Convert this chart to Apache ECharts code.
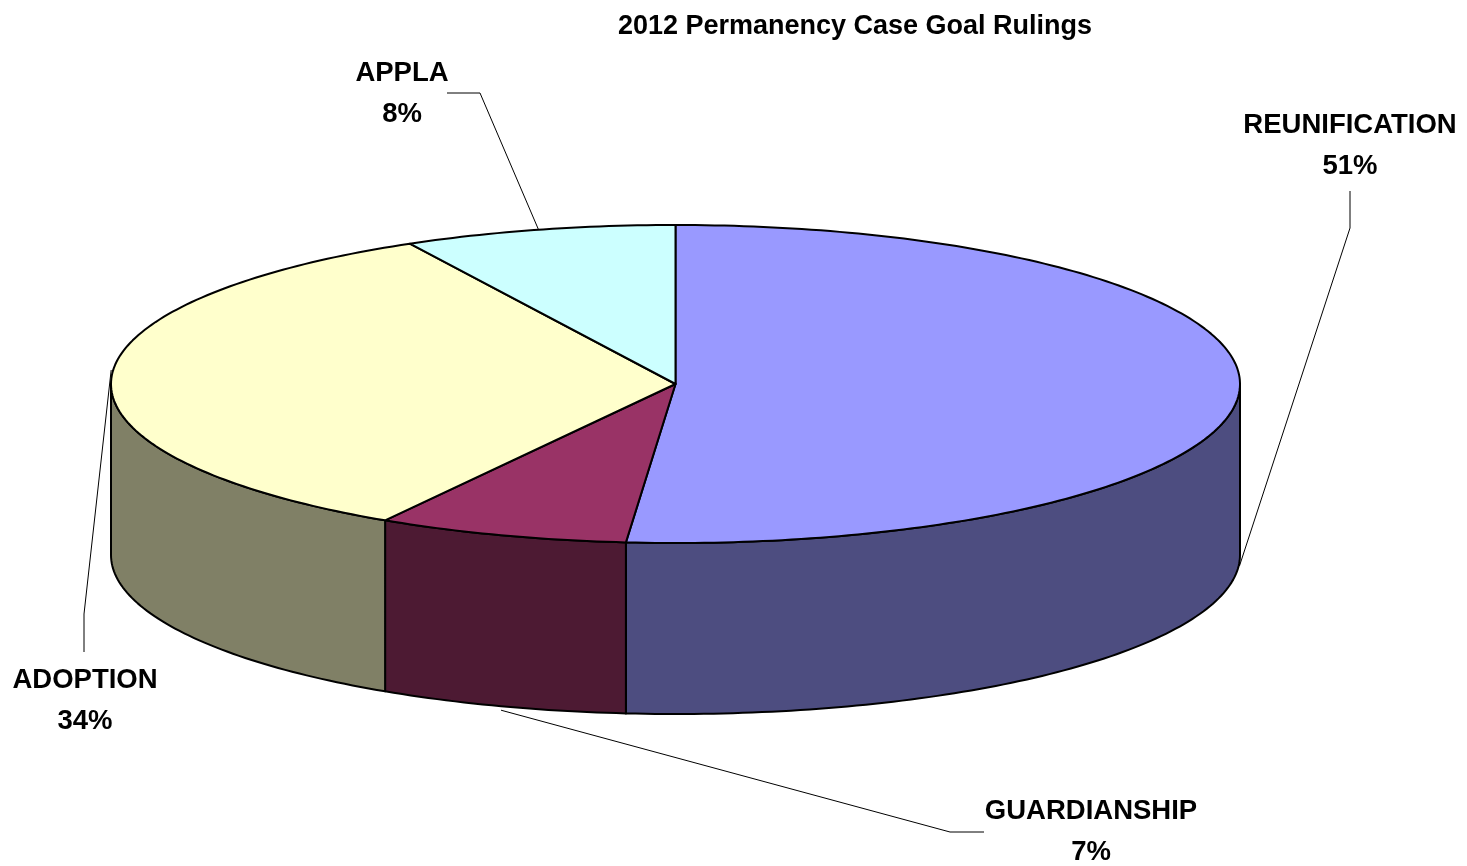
<!DOCTYPE html>
<html>
<head>
<meta charset="utf-8">
<title>2012 Permanency Case Goal Rulings</title>
<script src="https://cdn.jsdelivr.net/npm/echarts@6/dist/echarts.min.js"></script>
<style>
  html, body { margin: 0; padding: 0; background: #fff; }
  #main { width: 1467px; height: 866px; }
</style>
</head>
<body>
<div id="main"></div>
<script>
// data (percent of rulings)
var categories = ['REUNIFICATION', 'GUARDIANSHIP', 'ADOPTION', 'APPLA'];
var shares = [51.4, 7.2, 33.6, 7.8];

// look
var topColors = ['#9999ff', '#993366', '#ffffcc', '#ccffff'];
var sideColors = ['#4d4d80', '#4d1a33', '#808066', '#668080'];
var FONT = '"Liberation Sans", Arial, sans-serif';

// 3d pie layout (ellipse + depth)
var cx = 675.5, cy = 384, rx = 564.5, ry = 159, depth = 171;

// label boxes and leader line elbows, one per slice
var labelPos = [[1350, 146], [1091, 832], [85, 701], [402, 94]];
var lineEnd = [[1350, 191], [984, 832], [84, 652], [447, 93]];
var lineElbow = [[1350, 228], [950, 832], [84, 614], [480, 93]];
var anchorDrop = [depth + 4, depth + 4, -10, 0];

var total = shares.reduce(function (s, v) { return s + v; }, 0);

function pt(deg, drop) {
    var t = deg * Math.PI / 180;
    return [cx + rx * Math.sin(t), cy - ry * Math.cos(t) + drop];
}

function arc(a, b, drop) {
    var pts = [];
    var n = Math.max(2, Math.ceil(b - a));
    for (var k = 0; k <= n; k++) {
        pts.push(pt(a + (b - a) * k / n, drop));
    }
    return pts;
}

function renderItem(params, api) {
    var i = params.dataIndex;
    var before = 0;
    for (var j = 0; j < i; j++) before += shares[j];
    var a0 = before / total * 360;
    var a1 = (before + api.value(0)) / total * 360;
    var mid = (a0 + a1) / 2;
    var children = [];

    // front side wall (only the part facing us, 90..270 deg)
    var s0 = Math.max(a0, 90), s1 = Math.min(a1, 270);
    if (s1 > s0) {
        var wall = arc(s0, s1, 0).concat(arc(s0, s1, depth).reverse());
        children.push({
            type: 'polygon',
            z2: 1,
            shape: { points: wall },
            style: { fill: sideColors[i], stroke: '#000', lineWidth: 2, lineJoin: 'round' }
        });
    }

    // top face
    children.push({
        type: 'polygon',
        z2: 5,
        shape: { points: [[cx, cy]].concat(arc(a0, a1, 0)) },
        style: { fill: topColors[i], stroke: '#000', lineWidth: 2, lineJoin: 'round' }
    });

    // leader line
    children.push({
        type: 'polyline',
        z2: 8,
        shape: { points: [lineEnd[i], lineElbow[i], pt(mid, anchorDrop[i])] },
        style: { stroke: '#000', lineWidth: 1, fill: null }
    });

    // label
    children.push({
        type: 'text',
        z2: 10,
        style: {
            text: categories[i] + '\n' + Math.round(api.value(0) / total * 100) + '%',
            x: labelPos[i][0],
            y: labelPos[i][1],
            align: 'center',
            verticalAlign: 'middle',
            lineHeight: 41,
            font: 'bold 27.5px ' + FONT,
            fill: '#000'
        }
    });

    return { type: 'group', children: children };
}

var chart = echarts.init(document.getElementById('main'));
chart.setOption({
    backgroundColor: '#fff',
    animation: false,
    title: {
        text: '2012 Permanency Case Goal Rulings',
        left: 850,
        top: 8,
        textAlign: 'center',
        textStyle: { fontFamily: FONT, fontWeight: 'bold', fontSize: 27, color: '#000' }
    },
    series: [{
        type: 'custom',
        coordinateSystem: 'none',
        renderItem: renderItem,
        data: shares.map(function (v, i) { return { name: categories[i], value: v }; })
    }]
});
</script>
</body>
</html>
